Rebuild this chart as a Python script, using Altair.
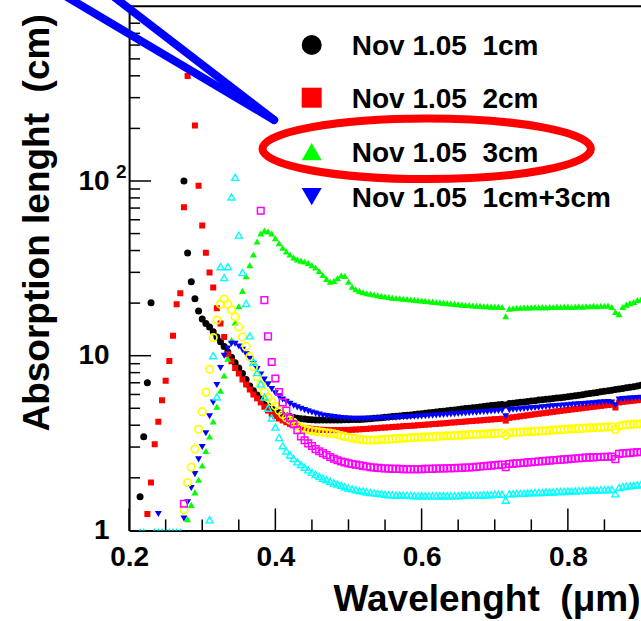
import altair as alt
import pandas as pd

FONT = "Liberation Sans"

# wavelength grid of the spectra, in nm (5 nm steps)
WAVELENGTH_NM = list(range(215, 905, 5))

N = None
SERIES_1CM = [
    1.56, 3.44, 7.0, 20.1, N, N, N, N, N, N,
    N, N, 100, 38.7, 26.5, 21.2, 18.0, 16.2, 15.3, 14.6,
    13.7, 12.8, 12.0, 11.3, 10.5, 9.8, 9.1, 8.5, 7.9, 7.3,
    6.7, 6.3, 5.95, 5.65, 5.4, 5.15, 4.97, 4.83, 4.71, 4.61,
    4.53, 4.48, 4.43, 4.39, 4.36, 4.34, 4.32, 4.30, 4.29, 4.29,
    4.28, 4.28, 4.28, 4.28, 4.29, 4.29, 4.30, 4.30, 4.31, 4.31,
    4.32, 4.33, 4.34, 4.36, 4.38, 4.40, 4.42, 4.44, 4.46, 4.48,
    4.50, 4.52, 4.54, 4.56, 4.58, 4.61, 4.63, 4.66, 4.68, 4.71,
    4.73, 4.76, 4.79, 4.81, 4.84, 4.87, 4.89, 4.92, 4.95, 4.98,
    5.01, 5.03, 5.06, 5.09, 5.12, 5.15, 5.18, 5.21, 5.24, 5.26,
    5.22, 5.32, 5.35, 5.38, 5.41, 5.44, 5.47, 5.50, 5.53, 5.57,
    5.60, 5.63, 5.66, 5.69, 5.72, 5.75, 5.79, 5.82, 5.86, 5.90,
    5.94, 5.98, 6.03, 6.07, 6.12, 6.16, 6.21, 6.25, 6.30, 6.35,
    6.40, 6.45, 6.50, 6.55, 6.60, 6.65, 6.71, 6.78,
]
SERIES_2CM = [
    N, N, 1.24, 1.88, 3.11, 4.19, 5.56, 7.19, 9.33, 13.0,
    19.7, 22.8, 70.7, 399, N, 208, 94, 55.7, 38.9, 29.9,
    24.6, 18.7, 15.3, 12.8, 10.2, 9.3, 8.5, 7.9, 7.3, 6.85,
    6.4, 6.0, 5.7, 5.4, 5.1, 4.85, 4.65, 4.5, 4.37, 4.26,
    4.16, 4.07, 4.0, 3.94, 3.90, 3.86, 3.83, 3.81, 3.79, 3.77,
    3.76, 3.76, 3.75, 3.75, 3.75, 3.75, 3.76, 3.76, 3.77, 3.78,
    3.79, 3.80, 3.81, 3.83, 3.84, 3.85, 3.87, 3.88, 3.89, 3.91,
    3.92, 3.93, 3.95, 3.96, 3.97, 3.98, 4.00, 4.01, 4.03, 4.04,
    4.06, 4.07, 4.09, 4.10, 4.12, 4.14, 4.15, 4.17, 4.18, 4.20,
    4.22, 4.23, 4.25, 4.26, 4.28, 4.30, 4.31, 4.33, 4.34, 4.36,
    4.25, 4.41, 4.44, 4.47, 4.50, 4.53, 4.56, 4.59, 4.62, 4.65,
    4.68, 4.71, 4.74, 4.77, 4.80, 4.83, 4.86, 4.89, 4.92, 4.95,
    4.98, 5.01, 5.04, 5.07, 5.10, 5.13, 5.16, 5.19, 5.22, 5.25,
    5.05, 5.40, 5.44, 5.47, 5.50, 5.53, 5.56, 5.59,
]
SERIES_3CM = [
    N, N, N, N, N, N, N, N, N, N,
    N, N, N, 1.16, 1.4, 1.65, 1.95, 2.35, 2.85, 3.45,
    4.2, 5.1, 6.3, 7.7, 9.6, 12.3, 15.5, 19.2, 23.5, 28.5,
    33.0, 38.0, 45.0, 50.0, 52.0, 51.5, 50.0, 47.0, 44.0, 41.5,
    39.5, 38.0, 36.5, 35.5, 35.0, 34.6, 34.0, 33.0, 32.0, 30.5,
    29.0, 27.5, 26.5, 26.8, 27.8, 28.8, 28.6, 26.5, 24.8, 24.0,
    23.5, 23.1, 22.8, 22.6, 22.4, 22.2, 22.0, 21.8, 21.7, 21.5,
    21.4, 21.3, 21.2, 21.1, 21.0, 20.9, 20.8, 20.7, 20.6, 20.5,
    20.4, 20.3, 20.2, 20.1, 20.0, 19.9, 19.8, 19.7, 19.6, 19.5,
    19.5, 19.4, 19.3, 19.3, 19.2, 19.2, 19.1, 19.1, 19.1, 19.0,
    16.8, 18.6, 18.7, 18.8, 18.8, 18.9, 18.9, 18.9, 19.0, 18.9,
    19.0, 18.9, 19.0, 19.0, 19.1, 19.0, 19.1, 19.1, 19.0, 19.1,
    19.2, 19.1, 19.2, 19.2, 19.3, 19.2, 19.3, 19.3, 19.4, 19.0,
    17.8, 17.3, 19.0, 19.6, 20.0, 20.3, 20.8, 21.0,
]
SERIES_1CM_3CM = [
    N, N, N, N, N, 1.24, N, N, N, N,
    N, N, 1.17, 1.45, 1.75, 2.1, 2.55, 3.0, 3.6, 4.5,
    5.4, 6.8, 8.5, 10.0, 11.0, 11.7, 11.7, 11.3, 10.8, 10.2,
    9.6, 9.0, 8.4, 7.8, 7.3, 6.85, 6.45, 6.1, 5.85, 5.62,
    5.45, 5.3, 5.17, 5.06, 4.97, 4.88, 4.8, 4.73, 4.66, 4.6,
    4.55, 4.51, 4.48, 4.45, 4.42, 4.40, 4.38, 4.37, 4.36, 4.35,
    4.35, 4.35, 4.35, 4.36, 4.36, 4.37, 4.38, 4.39, 4.40, 4.41,
    4.42, 4.43, 4.44, 4.45, 4.46, 4.47, 4.48, 4.49, 4.50, 4.52,
    4.53, 4.55, 4.56, 4.58, 4.59, 4.61, 4.62, 4.64, 4.66, 4.67,
    4.69, 4.71, 4.72, 4.74, 4.76, 4.77, 4.79, 4.81, 4.83, 4.85,
    4.50, 4.88, 4.90, 4.92, 4.94, 4.96, 4.98, 5.00, 5.02, 5.04,
    5.07, 5.09, 5.11, 5.13, 5.15, 5.17, 5.19, 5.21, 5.23, 5.25,
    5.27, 5.29, 5.31, 5.33, 5.35, 5.37, 5.39, 5.41, 5.43, 5.40,
    5.20, 5.62, 5.64, 5.66, 5.68, 5.70, 5.72, 5.74,
]
SERIES_YELLOW = [
    N, N, N, N, N, N, N, N, N, N,
    N, N, 1.31, 1.88, 2.30, 2.92, 3.79, 4.78, 6.17, 8.36,
    12.7, 16.0, 19.7, 21.1, 19.7, 18.3, 16.7, 14.6, 12.8, 11.3,
    9.87, 8.65, 7.58, 6.79, 6.2, 5.75, 5.45, 5.15, 4.85, 4.6,
    4.42, 4.28, 4.15, 4.0, 3.87, 3.80, 3.75, 3.72, 3.69, 3.66,
    3.64, 3.62, 3.60, 3.57, 3.53, 3.49, 3.45, 3.41, 3.38, 3.35,
    3.32, 3.30, 3.29, 3.29, 3.29, 3.30, 3.31, 3.32, 3.33, 3.34,
    3.35, 3.36, 3.37, 3.38, 3.39, 3.40, 3.41, 3.42, 3.43, 3.43,
    3.44, 3.45, 3.46, 3.47, 3.48, 3.48, 3.49, 3.50, 3.51, 3.52,
    3.53, 3.54, 3.55, 3.56, 3.56, 3.57, 3.58, 3.59, 3.60, 3.61,
    3.50, 3.62, 3.63, 3.64, 3.65, 3.66, 3.67, 3.68, 3.69, 3.70,
    3.71, 3.72, 3.74, 3.75, 3.76, 3.77, 3.79, 3.80, 3.81, 3.82,
    3.83, 3.84, 3.85, 3.86, 3.87, 3.88, 3.89, 3.90, 3.91, 3.92,
    3.78, 3.95, 4.00, 4.02, 4.04, 4.05, 4.06, 4.07,
]
SERIES_MAGENTA = [
    N, N, N, N, N, N, N, N, N, N,
    N, N, 1.42, N, N, N, N, N, N, N,
    N, N, N, N, N, N, N, N, N, N,
    N, N, N, 67.6, 20.8, 12.9, 9.2, 7.4, 6.2, 5.4,
    4.85, 4.4, 4.05, 3.75, 3.45, 3.28, 3.15, 3.04, 2.92, 2.84,
    2.77, 2.70, 2.63, 2.57, 2.52, 2.48, 2.45, 2.42, 2.40, 2.38,
    2.36, 2.34, 2.32, 2.30, 2.29, 2.28, 2.27, 2.26, 2.26, 2.25,
    2.25, 2.25, 2.24, 2.24, 2.24, 2.24, 2.24, 2.24, 2.25, 2.25,
    2.25, 2.26, 2.26, 2.26, 2.27, 2.27, 2.27, 2.28, 2.28, 2.29,
    2.29, 2.30, 2.31, 2.32, 2.33, 2.34, 2.35, 2.36, 2.37, 2.38,
    2.30, 2.40, 2.41, 2.42, 2.43, 2.44, 2.45, 2.46, 2.47, 2.48,
    2.49, 2.50, 2.51, 2.52, 2.53, 2.54, 2.55, 2.56, 2.57, 2.58,
    2.59, 2.60, 2.61, 2.62, 2.62, 2.63, 2.63, 2.64, 2.64, 2.65,
    2.56, 2.74, 2.76, 2.77, 2.78, 2.79, 2.80, 2.81,
]
SERIES_CYAN = [
    0.975, 0.975, N, N, 0.975, 0.975, 0.975, 0.975, 0.975, 0.975,
    0.975, 0.975, N, N, N, N, N, N, N, 1.15,
    10.0, 5.8, 32.3, 28.0, 32.3, 81.0, 105, 49.0, 29.9, 19.9,
    13.0, 9.2, 8.0, 6.9, 5.8, 5.0, 4.4, 3.9, 3.4, 3.05,
    2.85, 2.7, 2.58, 2.47, 2.38, 2.30, 2.22, 2.15, 2.09, 2.04,
    1.99, 1.95, 1.91, 1.87, 1.84, 1.81, 1.78, 1.75, 1.73, 1.71,
    1.69, 1.68, 1.66, 1.65, 1.64, 1.63, 1.62, 1.61, 1.60, 1.60,
    1.59, 1.59, 1.59, 1.59, 1.59, 1.58, 1.58, 1.58, 1.58, 1.58,
    1.58, 1.58, 1.58, 1.58, 1.58, 1.58, 1.58, 1.58, 1.59, 1.59,
    1.59, 1.59, 1.59, 1.59, 1.60, 1.60, 1.60, 1.61, 1.61, 1.61,
    1.49, 1.62, 1.62, 1.63, 1.63, 1.63, 1.64, 1.64, 1.65, 1.65,
    1.65, 1.66, 1.66, 1.66, 1.67, 1.67, 1.67, 1.68, 1.68, 1.68,
    1.69, 1.69, 1.69, 1.70, 1.70, 1.70, 1.71, 1.71, 1.71, 1.72,
    1.62, 1.76, 1.78, 1.79, 1.80, 1.81, 1.82, 1.83,
]

LEGEND_LABELS = ["Nov 1.05\u00a0 1cm", "Nov 1.05\u00a0 2cm",
                 "Nov 1.05\u00a0 3cm", "Nov 1.05\u00a0 1cm+3cm"]
X_TITLE = "Wavelenght\u00a0 (\u03bcm)"
Y_TITLE = "Absorption lenght\u00a0 (cm)"

X_LABEL_VALUES = [0.2, 0.4, 0.6, 0.8]
X_MINOR = [0.25, 0.3, 0.35, 0.45, 0.5, 0.55, 0.65, 0.7, 0.75, 0.85]
Y_LABEL_VALUES = [1, 10, 100]
Y_MAJOR = [10, 100]
Y_MINOR = [2, 3, 4, 5, 6, 7, 8, 9, 20, 30, 40, 50, 60, 70, 80, 90,
           200, 300, 400, 500, 600, 700, 800, 900]

W, H = 511.9, 524.1
PAD = {"left": 129.1, "top": 6.3, "right": 0, "bottom": 90.6}


def frame(values):
    rows = [(nm / 1000.0, v) for nm, v in zip(WAVELENGTH_NM, values) if v is not None]
    return pd.DataFrame(rows, columns=["wl", "val"])


xs = alt.Scale(domain=[0.2, 0.9], nice=False, zero=False)
ys = alt.Scale(type="log", domain=[1, 1000], nice=False)

x_axis = alt.Axis(
    values=X_LABEL_VALUES, format=".1f", ticks=False, grid=False,
    domain=True, domainColor="black", domainWidth=2,
    labelFont=FONT, labelFontSize=28, labelFontWeight="bold", labelColor="black",
    labelPadding=35.6, labelBaseline="alphabetic", labelFlush=False, labelOverlap=False,
    title=X_TITLE, titleFont=FONT, titleFontSize=37, titleFontWeight="bold",
    titleColor="black", titleX=W - 1, titleY=80.5, titleAlign="right",
    titleBaseline="alphabetic",
)
y_axis = alt.Axis(
    values=Y_LABEL_VALUES, labelExpr="datum.value < 5 ? '1' : '10'",
    ticks=False, grid=False, domain=True, domainColor="black", domainWidth=2,
    labelFont=FONT, labelFontSize=28, labelFontWeight="bold", labelColor="black",
    labelPadding=20, labelFlush=False, labelOverlap=False,
    title=Y_TITLE, titleFont=FONT, titleFontSize=37, titleFontWeight="bold",
    titleColor="black", titleAngle=270, titleX=-81.1, titleY=216.1,
    titleAlign="center", titleBaseline="alphabetic",
)


def points(values, shape, color, filled, size, sw=1.5):
    return alt.Chart(frame(values)).mark_point(
        shape=shape, filled=filled, color=color, size=size,
        strokeWidth=sw, opacity=1, clip=True,
    ).encode(
        x=alt.X("wl:Q", scale=xs, axis=x_axis),
        y=alt.Y("val:Q", scale=ys, axis=y_axis),
    )


layers = [
    points(SERIES_1CM, "circle", "#000000", True, 49),
    points(SERIES_2CM, "square", "#ff0000", True, 36),
    points(SERIES_3CM, "triangle-up", "#00ff00", True, 49),
    points(SERIES_1CM_3CM, "triangle-down", "#0000ff", True, 49),
    points(SERIES_YELLOW, "circle", "#ffff00", False, 56, sw=1.7),
    points(SERIES_MAGENTA, "square", "#ff00ff", False, 44, sw=1.5),
    points(SERIES_CYAN, "triangle-up", "#00ffff", False, 49, sw=1.4),
]


# inward tick marks and top frame
def xticks(vals, length):
    return alt.Chart(pd.DataFrame({"wl": vals})).mark_rule(
        color="black", strokeWidth=1.5).encode(
        x=alt.X("wl:Q", scale=xs, axis=x_axis), y=alt.value(H), y2=alt.value(H - length))


def yticks(vals, length):
    return alt.Chart(pd.DataFrame({"val": vals})).mark_rule(
        color="black", strokeWidth=1.5).encode(
        y=alt.Y("val:Q", scale=ys, axis=y_axis), x=alt.value(0), x2=alt.value(length))


layers += [
    xticks(X_LABEL_VALUES, 22), xticks(X_MINOR, 11),
    yticks(Y_MAJOR, 22), yticks(Y_MINOR, 11),
]
one = pd.DataFrame({"a": [0]})
layers.append(alt.Chart(one).mark_rule(color="black", strokeWidth=2).encode(
    x=alt.value(0), x2=alt.value(W), y=alt.value(0)))

# superscript of 10^2 label
layers.append(alt.Chart(one).mark_text(
    text="2", font=FONT, fontSize=19, fontWeight="bold", color="black",
    align="left", baseline="alphabetic").encode(
    x=alt.value(-13.1), y=alt.value(172)))

# legend
LEG_X, TXT_X = 182.6, 222.6
LEG_Y = [38.7, 91.4, 145.4, 190.4]
LEG_STYLE = [("circle", "#000000"), ("square", "#ff0000"),
             ("triangle-up", "#00ff00"), ("triangle-down", "#0000ff")]
for (shape, color), yy, label in zip(LEG_STYLE, LEG_Y, LEGEND_LABELS):
    layers.append(alt.Chart(one).mark_point(
        shape=shape, filled=True, color=color, size=400, opacity=1).encode(
        x=alt.value(LEG_X), y=alt.value(yy)))
    layers.append(alt.Chart(one).mark_text(
        text=label, font=FONT, fontSize=28, fontWeight="bold", color="black",
        align="left", baseline="alphabetic").encode(
        x=alt.value(TXT_X), y=alt.value(yy + 10)))

# annotations: red ellipse and blue pointer lines
ELLIPSE = ("M -1 0 C -1 -0.1019 -0.5523 -0.1845 0 -0.1845 "
           "C 0.5523 -0.1845 1 -0.1019 1 0 C 1 0.1019 0.5523 0.1845 0 0.1845 "
           "C -0.5523 0.1845 -1 0.1019 -1 0 Z")
layers.append(alt.Chart(one).mark_point(
    shape=ELLIPSE, filled=False, color="#ff0000", strokeWidth=8,
    size=107847, opacity=1).encode(x=alt.value(297.6), y=alt.value(142.5)))
for x0 in (-73.9, -24.1):
    layers.append(alt.Chart(one).mark_rule(
        color="#0000ff", strokeWidth=8, strokeCap="round").encode(
        x=alt.value(x0), y=alt.value(-16.3), x2=alt.value(145), y2=alt.value(113.7)))

chart = alt.layer(*layers).properties(
    width=W, height=H, padding=PAD,
    autosize=alt.AutoSizeParams(type="none"),
    background="white",
).configure_view(stroke=None)

chart.save("out.html", embed_options={"renderer": "svg", "actions": False})
